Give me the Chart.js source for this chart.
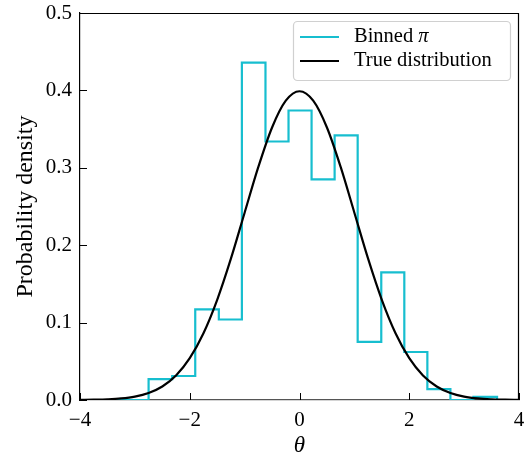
<!DOCTYPE html>
<html>
<head>
<meta charset="utf-8">
<script src="https://cdn.jsdelivr.net/npm/chart.js@4.4.1/dist/chart.umd.min.js"></script>
<style>
  body { margin: 0; background: #fff; }
  canvas { display: block; }
</style>
</head>
<body>
<canvas id="grafico" width="527" height="455"></canvas>
<script>
// histogram bins (left edges + last right edge) and densities
var binEdges = [-2.75, -2.32, -1.90, -1.47, -1.05, -0.62, -0.20, 0.22, 0.64, 1.06, 1.49, 1.91, 2.33, 2.75, 3.17, 3.60];
var binHeights = [0.027, 0.031, 0.117, 0.104, 0.436, 0.334, 0.374, 0.285, 0.342, 0.075, 0.165, 0.062, 0.014, 0.0, 0.004];

// true distribution
var curveTheta = [-4, -3.75, -3.5, -3.25, -3, -2.75, -2.5, -2.25, -2, -1.75, -1.5, -1.25, -1, -0.75, -0.5, -0.25, 0,
                  0.25, 0.5, 0.75, 1, 1.25, 1.5, 1.75, 2, 2.25, 2.5, 2.75, 3, 3.25, 3.5, 3.75, 4];
var curveDensity = [0.0001, 0.0004, 0.0009, 0.0020, 0.0044, 0.0091, 0.0175, 0.0317, 0.0540, 0.0863, 0.1295, 0.1826, 0.2420, 0.3011, 0.3521, 0.3867, 0.3989,
                    0.3867, 0.3521, 0.3011, 0.2420, 0.1826, 0.1295, 0.0863, 0.0540, 0.0317, 0.0175, 0.0091, 0.0044, 0.0020, 0.0009, 0.0004, 0.0001];

var xTicks = [-4, -2, 0, 2, 4];
var yTicks = [0.0, 0.1, 0.2, 0.3, 0.4, 0.5];

var cyan = '#17becf';
var serif = "'Liberation Serif', 'DejaVu Serif', serif";

var histPoints = [{x: -4, y: 0}];
for (var i = 0; i < binHeights.length; i++) {
  histPoints.push({x: binEdges[i], y: binHeights[i]});
}
histPoints.push({x: binEdges[binEdges.length - 1], y: 0});
histPoints.push({x: 4, y: 0});

var curvePoints = curveTheta.map(function (t, i) { return {x: t, y: curveDensity[i]}; });

// inward tick marks
var innerTicks = {
  id: 'innerTicks',
  afterDraw: function (chart) {
    var c = chart.ctx, a = chart.chartArea;
    var xs = chart.scales.x, ys = chart.scales.y;
    c.save();
    c.strokeStyle = '#000';
    c.lineWidth = 1;
    c.beginPath();
    xTicks.forEach(function (v) {
      var px = Math.round(xs.getPixelForValue(v)) + 0.5;
      c.moveTo(px, a.bottom);
      c.lineTo(px, a.bottom - 7);
    });
    yTicks.forEach(function (v) {
      var py = Math.round(ys.getPixelForValue(v)) + 0.5;
      c.moveTo(a.left, py);
      c.lineTo(a.left + 7, py);
    });
    c.stroke();
    c.restore();
  }
};

// legend box inside the axes, upper right
var boxLegend = {
  id: 'boxLegend',
  afterDraw: function (chart) {
    var c = chart.ctx, a = chart.chartArea;
    var w = 217, h = 59;
    var x0 = a.right - 9 - w, y0 = a.top + 8;
    c.save();
    c.fillStyle = 'rgba(255,255,255,0.85)';
    c.strokeStyle = '#d0d0d0';
    c.lineWidth = 1.2;
    c.beginPath();
    c.roundRect(x0 + 0.5, y0 + 0.5, w, h, 4);
    c.fill();
    c.stroke();
    var rows = [
      {color: cyan, text: 'Binned ', math: 'π'},
      {color: '#000', text: 'True distribution', math: ''}
    ];
    c.textBaseline = 'middle';
    rows.forEach(function (r, k) {
      var yy = y0 + 16 + k * 24;
      c.strokeStyle = r.color;
      c.lineWidth = 2;
      c.beginPath();
      c.moveTo(x0 + 7, yy);
      c.lineTo(x0 + 46, yy);
      c.stroke();
      c.fillStyle = '#000';
      c.font = '20.5px ' + serif;
      c.fillText(r.text, x0 + 61, yy);
      if (r.math) {
        var tw = c.measureText(r.text).width;
        c.font = 'italic 20.5px ' + serif;
        c.fillText(r.math, x0 + 61 + tw, yy);
      }
    });
    c.restore();
  }
};

var ctx = document.getElementById('grafico').getContext('2d');
var grafico = new Chart(ctx, {
  type: 'line',
  data: {
    datasets: [{
      label: 'Binned π',
      data: histPoints,
      stepped: 'before',
      borderColor: cyan,
      borderWidth: 2.2,
      pointRadius: 0,
      fill: false,
      order: 1
    }, {
      label: 'True distribution',
      data: curvePoints,
      borderColor: '#000',
      borderWidth: 2.2,
      pointRadius: 0,
      cubicInterpolationMode: 'monotone',
      fill: false,
      order: 0
    }]
  },
  options: {
    responsive: false,
    animation: false,
    layout: { padding: { top: 13, right: 8, left: 0, bottom: 0 } },
    scales: {
      x: {
        type: 'linear',
        min: -4,
        max: 4,
        afterFit: function (s) {
          s.height = 55;
          s.paddingLeft = 0; s.paddingRight = 0;
        },
        afterBuildTicks: function (s) { s.ticks = xTicks.map(function (v) { return {value: v}; }); },
        grid: { display: false, drawTicks: false },
        border: { display: true, color: '#555', width: 1.2 },
        ticks: {
          color: '#000',
          padding: 8,
          maxRotation: 0,
          font: { family: serif, size: 21 },
          callback: function (v) { return v < 0 ? '\u2212' + Math.abs(v) : String(v); }
        },
        title: {
          display: true,
          text: 'θ',
          color: '#000',
          padding: 0,
          font: { family: serif, size: 23, style: 'italic', lineHeight: 0.8 }
        }
      },
      y: {
        min: 0,
        max: 0.5,
        afterFit: function (s) {
          s.width = 80;
          s.paddingTop = 0; s.paddingBottom = 0;
        },
        afterBuildTicks: function (s) { s.ticks = yTicks.map(function (v) { return {value: v}; }); },
        grid: { display: false, drawTicks: false },
        border: { display: true, color: '#000', width: 1.2 },
        ticks: {
          color: '#000',
          padding: 8,
          font: { family: serif, size: 21 },
          callback: function (v) { return Number(v).toFixed(1); }
        },
        title: {
          display: true,
          text: 'Probability density',
          color: '#000',
          padding: { top: 11, bottom: 0 },
          font: { family: serif, size: 24, lineHeight: 1.2 }
        }
      }
    },
    plugins: {
      legend: { display: false },
      tooltip: { enabled: false }
    }
  },
  plugins: [innerTicks, boxLegend, {
    id: 'frame',
    afterDraw: function (chart) {
      var c = chart.ctx, a = chart.chartArea;
      c.save();
      c.strokeStyle = '#000';
      c.lineWidth = 1.2;
      c.beginPath();
      c.moveTo(a.left, a.top + 0.5);
      c.lineTo(a.right - 0.5, a.top + 0.5);
      c.lineTo(a.right - 0.5, a.bottom);
      c.stroke();
      c.restore();
    }
  }]
});
</script>
</body>
</html>
